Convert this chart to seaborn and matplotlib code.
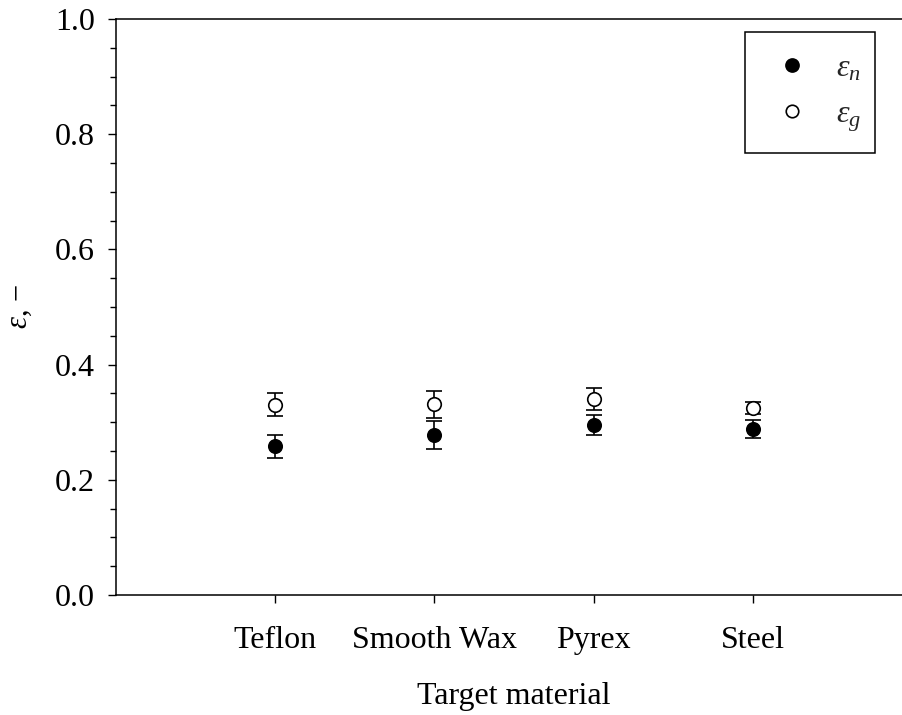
import numpy as np
import pandas as pd
import matplotlib
matplotlib.use("Agg")
import matplotlib.pyplot as plt
from matplotlib.lines import Line2D
from matplotlib.patches import Rectangle
import seaborn as sns

# Restitution coefficients per target material
materials = ["Teflon", "Smooth Wax", "Pyrex", "Steel"]
eps_n = [0.258, 0.278, 0.295, 0.288]
eps_n_err = [0.020, 0.024, 0.018, 0.016]
eps_g = [0.330, 0.331, 0.341, 0.325]
eps_g_err = [0.020, 0.024, 0.019, 0.010]

y_ticks = [0.0, 0.2, 0.4, 0.6, 0.8, 1.0]

sns.set_theme(style="ticks")
plt.rcParams["font.family"] = ["Liberation Serif", "DejaVu Serif"]
plt.rcParams["mathtext.fontset"] = "custom"
plt.rcParams["mathtext.rm"] = "Liberation Serif"
plt.rcParams["mathtext.it"] = "Liberation Serif:italic"
plt.rcParams["axes.unicode_minus"] = True

df = pd.DataFrame({
    "material": materials * 2,
    "value": eps_n + eps_g,
    "err": eps_n_err + eps_g_err,
    "kind": ["n"] * len(materials) + ["g"] * len(materials),
})

W, H = 902, 715
fig = plt.figure(figsize=(W / 100, H / 100), dpi=100)
# the plotting box runs slightly past the right edge of the canvas
ax = fig.add_axes([116 / W, 120 / H, 796 / W, 576 / H])

xpos = np.arange(len(materials))
err_style = dict(fmt="none", ecolor="black", elinewidth=1.2, capsize=6, capthick=1.2, zorder=2)
ax.errorbar(xpos, eps_g, yerr=eps_g_err, **err_style)
ax.errorbar(xpos, eps_n, yerr=eps_n_err, **err_style)

sub_n = df[df["kind"] == "n"]
sub_g = df[df["kind"] == "g"]
sns.scatterplot(data=sub_n, x="material", y="value", ax=ax, marker="o", s=95,
                color="black", edgecolor="black", linewidth=1.1, zorder=3, legend=False)
sns.scatterplot(data=sub_g, x="material", y="value", ax=ax, marker="o", s=95,
                color="white", edgecolor="black", linewidth=1.2, zorder=3, legend=False)

ax.set_xlim(-1.0, 4.0)
ax.set_ylim(0, 1.0)
ax.set_yticks(y_ticks)
ax.set_yticklabels([f"{v:.1f}" for v in y_ticks])
ax.set_yticks(np.arange(0, 1.001, 0.05), minor=True)
ax.set_xticks(xpos)
ax.set_xticklabels(materials)

for side in ["left", "top", "bottom", "right"]:
    ax.spines[side].set_color("black")
    ax.spines[side].set_linewidth(1.1)

ax.tick_params(axis="both", which="major", direction="out", length=6, width=1.0,
               color="black", labelsize=23, labelcolor="black")
ax.tick_params(axis="y", which="major", pad=9)
ax.tick_params(axis="y", which="minor", direction="out", length=4, width=1.0, color="black")
ax.tick_params(axis="x", which="minor", bottom=False)
ax.tick_params(axis="x", which="major", pad=16)

ax.set_xlabel("Target material", fontsize=23, color="black", labelpad=20)
ax.set_ylabel(r"$\varepsilon$, −", fontsize=22, color="black", labelpad=15)

# legend entries, with a plain square box drawn around them
handles = [
    Line2D([], [], linestyle="none", marker="o", markersize=9.5, markerfacecolor="black",
           markeredgecolor="black", markeredgewidth=1.1),
    Line2D([], [], linestyle="none", marker="o", markersize=9.0, markerfacecolor="white",
           markeredgecolor="black", markeredgewidth=1.2),
]
leg = ax.legend(handles, [r"$\varepsilon_n$", r"$\varepsilon_g$"], loc="upper left",
                bbox_to_anchor=(760 / W, 1 - 54 / H), bbox_transform=fig.transFigure,
                fontsize=23, frameon=False, borderpad=0.0,
                handletextpad=0.38, labelspacing=0.51, handlelength=2.0, borderaxespad=0)
fig.add_artist(Rectangle((745 / W, 1 - 153 / H), 130 / W, 121 / H,
                         transform=fig.transFigure, fill=False,
                         edgecolor="black", linewidth=1.1))

fig.savefig("out.png", dpi=100)
